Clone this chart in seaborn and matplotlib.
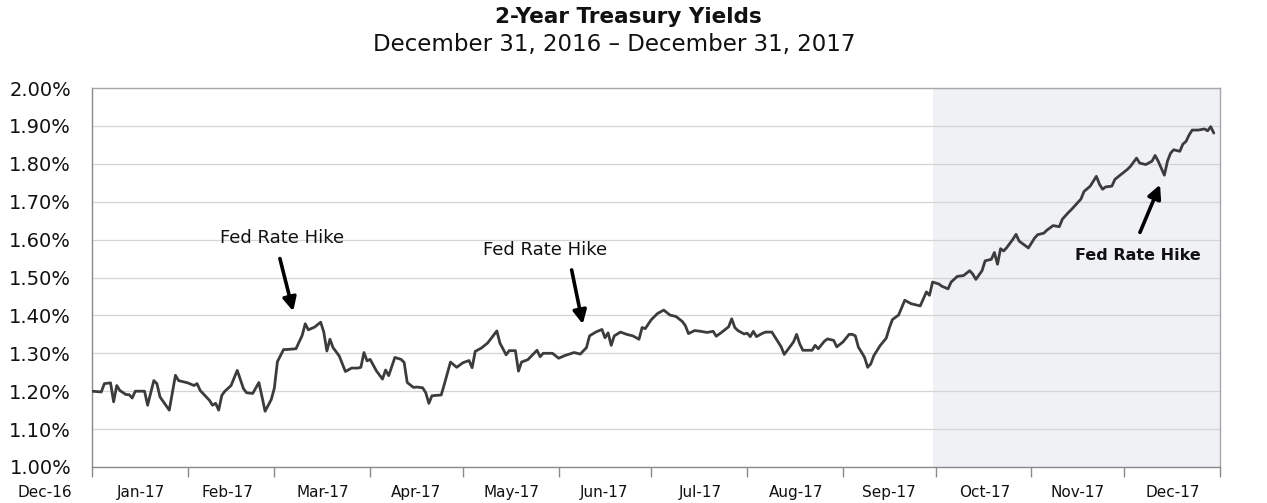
import numpy as np
import pandas as pd
import matplotlib
matplotlib.use("Agg")
import matplotlib.pyplot as plt
import matplotlib.dates as mdates
import matplotlib.transforms as mtransforms
import seaborn as sns

# ---- data (days since 2016-12-31, 2-year yield in %) ----
days = [0, 3, 4, 6, 7, 8, 9, 11, 12, 13, 14, 17, 18, 20, 21, 22, 25, 27, 28, 31, 33, 34, 35, 38, 39, 40,
        41, 42, 43, 45, 47, 49, 50, 52,
        54, 55, 56, 58, 59, 60, 62, 63, 66, 68, 69, 70, 72, 74, 75, 76, 77, 78, 80, 82, 84, 86, 87, 88,
        89, 90, 92, 94, 95, 96, 98, 100, 101, 102, 104,
        105, 107, 108, 109, 110, 113, 114, 116, 118, 120, 122, 123, 124, 126, 128, 131, 132, 134, 135,
        137, 138, 139, 141, 144, 145, 146, 149, 151, 153, 156,
        158, 160, 161, 163, 165, 166, 167, 168, 169, 171, 173, 175, 177, 178, 179, 181, 183, 185, 187,
        189, 191, 192, 193, 195, 197, 199, 201, 202, 204, 206, 207, 208,
        209, 211, 212, 213, 214, 215, 217, 218, 220, 221, 223, 224, 225, 227, 228, 229, 230, 232, 233,
        234, 235, 237, 238, 240, 241, 243, 245, 246, 247, 248, 249, 250, 251, 252, 253, 255, 257, 258, 259,
        261, 263, 265, 268, 270, 271, 272, 274, 275, 277, 278, 280, 282, 284, 285, 286, 288, 289, 291,
        292, 293, 294, 295, 296, 298, 299, 300, 302, 303, 305, 306, 308, 309,
        311, 313, 314, 316, 317, 318, 320, 321, 323, 325, 326, 327, 328, 330, 331, 333, 335, 336, 338,
        339, 341, 343, 344, 345, 347, 348, 349, 350, 352, 353, 354, 355, 356, 358, 360, 361, 362, 363]

yields = [1.200, 1.198, 1.220, 1.222, 1.172, 1.215, 1.202, 1.191, 1.191, 1.182, 1.200, 1.200, 1.163,
          1.228, 1.220, 1.185, 1.150, 1.242, 1.228, 1.222, 1.215, 1.220, 1.202, 1.176, 1.163, 1.168,
          1.150, 1.189, 1.200, 1.215, 1.255, 1.207, 1.196, 1.194,
          1.223, 1.186, 1.147, 1.178, 1.208, 1.278, 1.310, 1.310, 1.312, 1.347, 1.378, 1.362, 1.369,
          1.382, 1.356, 1.306, 1.337, 1.315, 1.293, 1.252, 1.261, 1.261, 1.263, 1.302, 1.280, 1.284,
          1.254, 1.232, 1.256, 1.241, 1.289, 1.284, 1.276, 1.223, 1.210,
          1.211, 1.209, 1.196, 1.168, 1.188, 1.190, 1.218, 1.277, 1.263, 1.275, 1.281, 1.262, 1.305,
          1.314, 1.327, 1.359, 1.327, 1.296, 1.307, 1.307, 1.253, 1.277, 1.283, 1.308, 1.291, 1.300,
          1.300, 1.287, 1.294, 1.302,
          1.298, 1.315, 1.346, 1.356, 1.363, 1.341, 1.354, 1.321, 1.346, 1.356, 1.350, 1.346, 1.337,
          1.368, 1.365, 1.389, 1.405, 1.414, 1.401, 1.397, 1.384, 1.373, 1.352, 1.360, 1.358, 1.355,
          1.358, 1.345, 1.357, 1.370, 1.391, 1.368,
          1.360, 1.351, 1.353, 1.344, 1.358, 1.344, 1.353, 1.356, 1.356, 1.343, 1.317, 1.297, 1.308,
          1.330, 1.350, 1.325, 1.308, 1.308, 1.308, 1.321, 1.312, 1.332, 1.338, 1.334, 1.317, 1.330,
          1.350, 1.350, 1.346, 1.316, 1.303, 1.289, 1.263, 1.272, 1.294, 1.320, 1.340, 1.367, 1.389,
          1.401, 1.440, 1.431, 1.425, 1.462, 1.453, 1.488, 1.483, 1.477, 1.470, 1.488, 1.503, 1.505,
          1.518, 1.509, 1.495, 1.518, 1.544, 1.548, 1.566, 1.535, 1.576, 1.570, 1.579, 1.601, 1.614,
          1.596, 1.584, 1.578, 1.604, 1.613, 1.617, 1.625,
          1.637, 1.634, 1.654, 1.672, 1.680, 1.689, 1.707, 1.727, 1.741, 1.767, 1.746, 1.733, 1.739,
          1.741, 1.759, 1.772, 1.785, 1.793, 1.815, 1.802, 1.798, 1.807, 1.822, 1.807, 1.770, 1.807,
          1.828, 1.837, 1.833, 1.852, 1.859, 1.876, 1.889, 1.889, 1.892, 1.887, 1.898, 1.881]

month_labels = ["Dec-16", "Jan-17", "Feb-17", "Mar-17", "Apr-17", "May-17", "Jun-17",
                "Jul-17", "Aug-17", "Sep-17", "Oct-17", "Nov-17", "Dec-17"]
ytick_values = [1.00, 1.10, 1.20, 1.30, 1.40, 1.50, 1.60, 1.70, 1.80, 1.90, 2.00]
ytick_labels = ["1.00%", "1.10%", "1.20%", "1.30%", "1.40%", "1.50%", "1.60%",
                "1.70%", "1.80%", "1.90%", "2.00%"]

title = "2-Year Treasury Yields"
subtitle = "December 31, 2016 \u2013 December 31, 2017"
annot_text = "Fed Rate Hike"

# ---- style ----
sns.set_theme(style="white")
plt.rcParams["font.family"] = ["DejaVu Sans"]

W, H = 1267, 503
fig = plt.figure(figsize=(W / 100, H / 100), dpi=100)
ax = fig.add_axes([92 / W, 1 - 467 / H, (1220 - 92) / W, (467 - 88) / H])

start = pd.Timestamp("2016-12-31")
x0 = mdates.date2num(start.to_pydatetime())
dates = start + pd.to_timedelta(days, unit="D")
df = pd.DataFrame({"date": dates, "yield": yields})

# shaded Q4 region
ax.axvspan(x0 + 272, x0 + 365, color="#eff1f5", zorder=0.1, lw=0)

sns.lineplot(data=df, x="date", y="yield", ax=ax, color="#3c3c3c", linewidth=2.0,
             estimator=None, sort=False, zorder=3)

ax.set_xlim(x0, x0 + 365)
ax.set_ylim(1.0, 2.0)

month_ticks = [start + pd.offsets.MonthEnd(i) for i in range(13)]
ax.set_xticks([mdates.date2num(t.to_pydatetime()) for t in month_ticks])
ax.set_xticklabels(month_labels)
ax.set_yticks(ytick_values)
ax.set_yticklabels(ytick_labels)
ax.set_xlabel("")
ax.set_ylabel("")

ax.yaxis.grid(True, color="#d4d4d4", linewidth=0.9, zorder=0.5)
ax.xaxis.grid(False)
ax.set_axisbelow(True)

for side in ["left", "bottom"]:
    ax.spines[side].set_color("#8a8a8a")
    ax.spines[side].set_linewidth(1.0)
for side in ["top", "right"]:
    ax.spines[side].set_color("#a8a8a8")
    ax.spines[side].set_linewidth(1.0)

ax.tick_params(axis="x", which="major", direction="out", length=7, width=1, color="#8a8a8a",
               pad=6, labelsize=11, labelcolor="#111111", bottom=True)
ax.tick_params(axis="y", which="major", length=0, pad=15, labelsize=14, labelcolor="#111111")

offset = mtransforms.ScaledTranslation(-47 / 100, 0, fig.dpi_scale_trans)
for lbl in ax.get_xticklabels():
    lbl.set_transform(lbl.get_transform() + offset)

# annotations
arrow_kw = dict(arrowstyle="-|>", color="black", lw=2.6, mutation_scale=20, shrinkA=0, shrinkB=0)
ax.text(x0 + 61.5, 1.605, annot_text, ha="center", va="center", fontsize=13, color="#111111")
ax.annotate("", xy=(x0 + 65.1, 1.411), xytext=(x0 + 60.8, 1.550), arrowprops=arrow_kw, zorder=5)

ax.text(x0 + 146.7, 1.572, annot_text, ha="center", va="center", fontsize=13, color="#111111")
ax.annotate("", xy=(x0 + 158.8, 1.377), xytext=(x0 + 155.2, 1.520), arrowprops=arrow_kw, zorder=5)

ax.text(x0 + 338.3, 1.558, annot_text, ha="center", va="center", fontsize=11.5,
        fontweight="bold", color="#111111")
ax.annotate("", xy=(x0 + 345.6, 1.745), xytext=(x0 + 339.1, 1.619), arrowprops=arrow_kw, zorder=5)

# titles
fig.text(628 / W, 1 - 17 / H, title, ha="center", va="center", fontsize=15.5, fontweight="bold",
         color="#111111")
fig.text(614 / W, 1 - 45 / H, subtitle, ha="center", va="center", fontsize=16.5, color="#111111")

fig.savefig("out.png", dpi=100)
